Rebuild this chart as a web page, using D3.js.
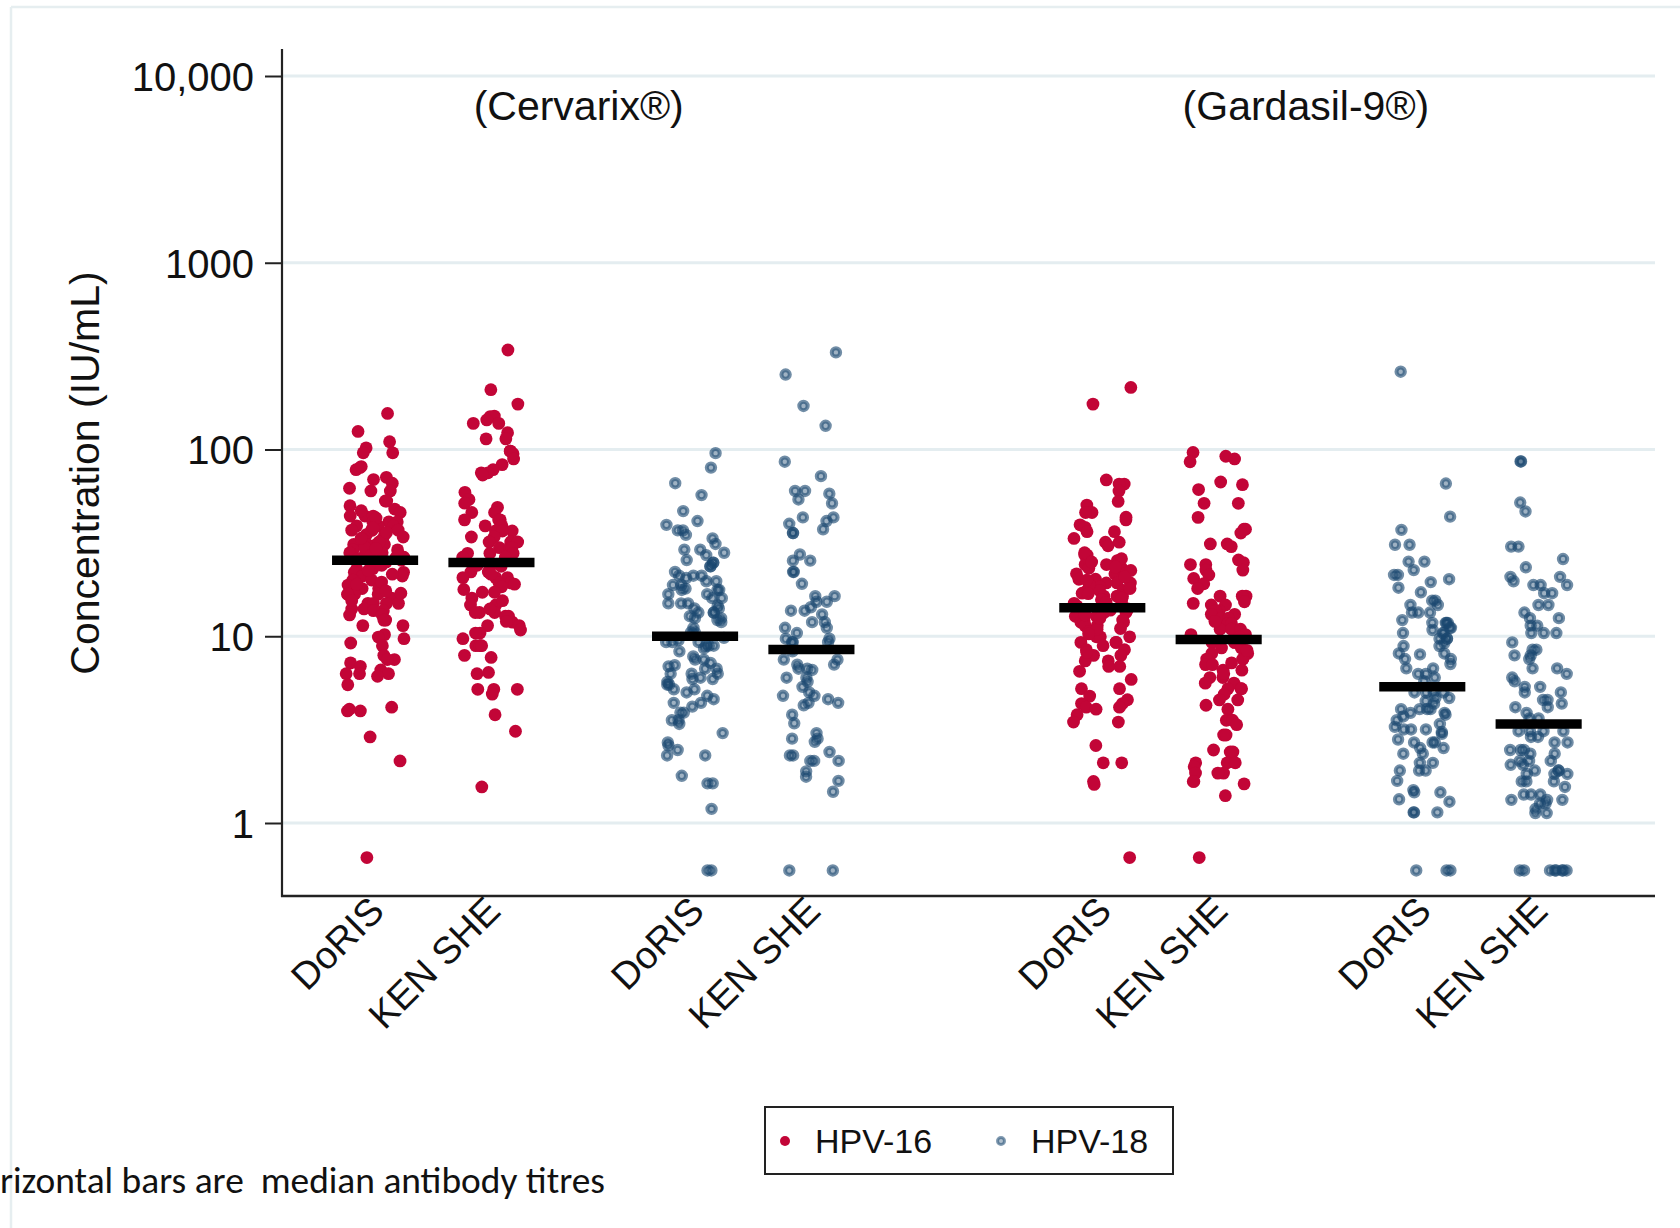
<!DOCTYPE html>
<html>
<head>
<meta charset="utf-8">
<script src="https://cdn.jsdelivr.net/npm/d3@7"></script>
<style>
  html, body { margin: 0; padding: 0; background: #ffffff; }
  svg { display: block; }
</style>
</head>
<body>
<svg id="chart" width="1680" height="1228"></svg>
<script>
// ---------------- DATA ----------------
const categories   = ["DoRIS", "KEN SHE", "DoRIS", "KEN SHE", "DoRIS", "KEN SHE", "DoRIS", "KEN SHE"];
const categoryPos  = [1, 2, 3.75, 4.75, 7.25, 8.25, 10, 11];
const seriesOfCat  = ["HPV-16", "HPV-16", "HPV-18", "HPV-18", "HPV-16", "HPV-16", "HPV-18", "HPV-18"];
const medians      = [25.5, 24.8, 10.0, 8.5, 14.2, 9.6, 5.36, 3.39];
const groupTitles  = ["(Cervarix®)", "(Gardasil-9®)"];
const groupTitlePos = [2.75, 9];
const yTicks       = [1, 10, 100, 1000, 10000];
const yTickLabels  = ["1", "10", "100", "1000", "10,000"];
const legendSeries = ["HPV-16", "HPV-18"];

const cervarix16Doris = [156, 125, 110, 102, 96, 96, 80, 78, 81, 69, 71, 66, 62, 60, 60, 53, 53, 50, 48, 46,
  44, 44, 44, 41, 41, 41, 39, 39, 39, 37, 37, 37, 37, 35, 35, 33, 33, 31, 31, 31, 31, 29, 29, 28, 28, 28,
  26.5, 26.5, 26.5, 24.3, 23, 23, 22, 22, 21, 21, 20, 20, 18.8, 18.8, 18, 18, 18, 16.8, 16.8, 16.8, 16.8,
  16, 15, 15, 15, 15, 14, 14, 13.7, 13.7, 13, 13, 12.2, 12.2, 11.4, 11.4, 10.2, 9.9, 9.7, 9.2, 8.9, 7.9,
  7.5, 7.5, 7.2, 6.9, 6.6, 6.3, 6.3, 6.3, 6.1, 5.5, 4.17, 3.98, 3.98, 4.07, 2.89, 2.15, 0.653,
  34, 30, 27, 25, 24, 43, 47, 38, 32, 36, 19.5, 17.5, 22.5, 27.5, 26, 25.5, 29.5, 33.5, 21.5, 19, 17, 15.5];
const cervarix16KenShe = [341, 209, 175, 150, 151, 144, 138, 138, 123, 114, 114, 98, 98, 95, 89, 83, 78, 75,
  75, 73, 59, 54, 51.6, 49, 46, 46, 42, 42, 42, 39, 39, 36.6, 36.6, 36.6, 34, 34, 32, 32, 32, 29.8, 29.8,
  29.8, 27.8, 27.8, 27.8, 26.5, 26.5, 23.7, 23.7, 23.7, 22.1, 22.1, 20.6, 20.6, 20.6, 19.3, 19.3, 18.4,
  17.2, 17.2, 16, 14.7, 14.7, 13.4, 13.4, 13.4, 12.8, 12.8, 11.9, 11.4, 11.4, 10.4, 10.4, 9.7, 8.9, 8.9,
  8.9, 7.9, 7.7, 6.4, 6.3, 5.2, 5.2, 5.2, 4.9, 3.8, 3.1, 1.56, 24, 21.5, 19, 17.8, 15.5, 14, 12, 10.8];
const cervarix18Doris = [95.6, 80, 66, 57, 46.8, 41.4, 39.5, 36.9, 36.9, 34.9, 33.4, 31.2, 29.1, 29.1, 28,
  27.2, 25.6, 24.8, 24.8, 23.7, 23.7, 22.1, 21.1, 21.1, 21.1, 19.7, 19.7, 18.8, 18.8, 17.7, 17.7, 17.7,
  16.8, 16.8, 16, 16, 15, 15, 15, 14.1, 14.1, 13.4, 13.4, 13.4, 12.8, 12.5, 12.5, 11.9, 11.1, 10.5, 10.5,
  9.3, 9.3, 9.3, 8.9, 8.9, 8.9, 8.3, 7.5, 7.5, 7.2, 6.7, 6.7, 6.3, 6.3, 6.3, 5.9, 5.9, 5.5, 5.5, 5.2, 5.2,
  5.0, 4.8, 4.6, 4.4, 4.4, 4.2, 3.9, 3.9, 3.55, 3.55, 3.39, 3.03, 2.7, 2.6, 2.46, 2.3, 2.3, 1.79, 1.63,
  1.63, 1.19, 0.557, 0.557, 9.8, 9.5, 8.6, 7.8, 6.9, 6.0, 20.5, 18, 14.6, 12.2, 7.0, 5.7];
const cervarix18KenShe = [331, 252, 171, 134, 86, 72, 60, 60, 58, 54, 51.5, 43.3, 43.3, 41.4, 40, 37.4, 35.7,
  35.7, 27.4, 25.4, 25.4, 22.1, 22.1, 19.1, 16.4, 16.4, 15.3, 15.3, 14.3, 13.7, 13.7, 13.1, 11.9, 11.9,
  11.1, 11.1, 10.4, 9.7, 9.7, 9.3, 9.3, 9.3, 8.3, 7.5, 7.5, 7.05, 7.05, 6.7, 6.7, 6.6, 6.0, 6.0, 5.7, 5.36,
  5.0, 4.8, 4.8, 4.6, 4.4, 4.4, 4.27, 3.8, 3.42, 3.03, 2.83, 2.72, 2.83, 2.4, 2.3, 2.3, 2.15, 2.15, 2.15,
  1.89, 1.77, 1.68, 1.47, 0.557, 0.557];
const gardasil16Doris = [215, 175, 68.7, 65.3, 65.3, 60, 52.7, 50.4, 46, 46, 43.4, 42, 39.5, 38.3, 36.3,
  36.3, 33.4, 31.9, 31.9, 30.5, 27.2, 27.2, 25.4, 24.2, 24.2, 23.1, 23.1, 21.6, 21.6, 21.6, 20.2, 20.2,
  19.3, 19.3, 19.3, 18.4, 18.4, 17.6, 17.6, 17.6, 16.4, 16.4, 16.4, 15.7, 15.7, 15, 15, 13.4, 13.4, 13.4,
  12.8, 12.8, 11.9, 11.9, 11.9, 11.4, 11.4, 10.6, 10.6, 9.93, 9.93, 9.93, 9.27, 9.27, 9.27, 8.47, 8.47,
  7.9, 7.9, 7.38, 7.38, 6.89, 6.89, 6.49, 5.87, 5.24, 5.24, 4.78, 4.57, 4.36, 4.36, 4.17, 4.17, 4.07, 3.8,
  3.47, 3.47, 2.6, 2.1, 2.1, 1.67, 1.61, 0.653, 28, 26, 22.5, 20.8, 18.9, 17, 14.5, 14, 13.8, 16.9, 12.2, 10.9,
  25, 23.5, 20, 18, 16, 15.2, 13, 12.5, 11, 10.3, 8.9, 8.2];
const gardasil16KenShe = [96.4, 92, 89, 86, 67, 64.8, 61, 51.5, 51.5, 43.3, 37.4, 37.4, 35.7, 31.2, 31.2,
  30.2, 25.6, 24.8, 24.2, 24.2, 22.6, 22.6, 21.3, 20.4, 19.1, 16.4, 16.4, 16.4, 15.3, 14.7, 14.7, 13.7,
  13.7, 13.1, 13.1, 12.5, 12.5, 11.7, 11.7, 11.7, 10.9, 10.9, 10.9, 10.2, 10.2, 9.27, 9.27, 9.27, 8.66,
  8.66, 8.09, 8.09, 7.55, 7.55, 7.55, 7.05, 7.05, 6.58, 6.58, 6.01, 6.01, 5.61, 5.61, 5.24, 5.24, 5.24,
  4.89, 4.56, 4.56, 4.27, 4.07, 3.55, 3.55, 3.36, 2.96, 2.96, 2.46, 2.4, 2.4, 2.1, 2.1, 2.1, 2.0, 1.85,
  1.85, 1.85, 1.67, 1.67, 1.62, 1.4, 0.653, 18, 15, 12, 9.9, 8.4, 7.2, 6.3];
const gardasil18Doris = [261, 65.7, 43.7, 37.1, 30.9, 30.9, 25.1, 25.1, 22.6, 21.3, 21.3, 20.2, 19.5, 18.2,
  17.2, 15.5, 15.5, 14.7, 14.7, 13.4, 13.4, 13.4, 11.8, 11.8, 11.8, 11.8, 11.1, 11.1, 10.4, 10.4, 10.4,
  9.7, 9.7, 9.7, 8.86, 8.86, 8.09, 8.09, 8.0, 7.55, 7.55, 6.73, 6.73, 6.29, 6.29, 6.01, 5.74, 5.0, 5.0,
  5.0, 5.0, 4.67, 4.67, 4.36, 4.07, 4.07, 4.07, 4.07, 3.89, 3.89, 3.72, 3.55, 3.39, 3.27, 3.17, 3.17, 3.17,
  3.07, 2.70, 2.70, 2.70, 2.52, 2.52, 2.35, 2.35, 2.1, 2.1, 1.91, 1.91, 1.91, 1.68, 1.5, 1.46, 1.46, 1.34,
  1.3, 1.14, 1.14, 1.14, 0.557, 0.557, 0.557, 12.2, 10.8, 9.2, 7.1, 4.5, 3.8, 3.0, 2.8];
const gardasil18KenShe = [86.3, 86.3, 52, 46.6, 30.2, 30.2, 25.9, 23.4, 20.8, 20.8, 19.7, 18.8, 18.8, 18.8,
  17, 17, 14.7, 14.7, 13.4, 12.5, 12.5, 11.4, 11.4, 10.4, 10.4, 10.4, 9.27, 8.47, 8.47, 7.9, 7.9, 7.55,
  6.73, 6.73, 6.29, 6.01, 5.74, 5.36, 5.36, 5.0, 5.0, 4.56, 4.56, 4.36, 4.17, 4.17, 3.89, 3.63, 3.63, 3.1,
  3.1, 3.1, 3.1, 2.89, 2.89, 2.70, 2.70, 2.46, 2.46, 2.46, 2.35, 2.35, 2.15, 2.15, 2.15, 2.05, 2.05, 1.91,
  1.91, 1.91, 1.83, 1.83, 1.83, 1.67, 1.67, 1.67, 1.56, 1.42, 1.42, 1.42, 1.33, 1.33, 1.33, 1.27, 1.27,
  1.19, 1.13, 1.13, 0.557, 0.557, 0.557, 0.557, 0.557, 0.557, 0.557, 0.557];

const columnValues = [cervarix16Doris, cervarix16KenShe, cervarix18Doris, cervarix18KenShe,
                      gardasil16Doris, gardasil16KenShe, gardasil18Doris, gardasil18KenShe];

// ---------------- CHART ----------------
const W = 1680, H = 1228;
const plot = { left: 282, right: 1655, top: 49, bottom: 896 };
const FONT = "'Liberation Sans', Arial, Helvetica, sans-serif";
const colors = { "HPV-16": "#c20537", "HPV-18": "#1a476f" };

const svg = d3.select("#chart");
svg.append("rect").attr("width", W).attr("height", H).attr("fill", "#ffffff");

// outer graph-region border (light)
svg.append("line").attr("x1", 11).attr("x2", W).attr("y1", 7).attr("y2", 7)
  .attr("stroke", "#e6eef0").attr("stroke-width", 2.5);
svg.append("line").attr("x1", 11).attr("x2", 11).attr("y1", 7).attr("y2", H)
  .attr("stroke", "#e6eef0").attr("stroke-width", 2.5);

const x = d3.scaleLinear().domain([0.2, 12]).range([plot.left, plot.right]);
const y = d3.scaleLog().domain([1, 10000]).range([823, 76]);

// gridlines
svg.append("g").selectAll("line").data(yTicks).join("line")
  .attr("x1", plot.left).attr("x2", plot.right)
  .attr("y1", d => y(d)).attr("y2", d => y(d))
  .attr("stroke", "#e4edf0").attr("stroke-width", 3);

// y axis
const yAxis = d3.axisLeft(y).tickValues(yTicks)
  .tickFormat((d, i) => yTickLabels[i]).tickSize(17).tickPadding(11);
const gy = svg.append("g").attr("transform", `translate(${plot.left},0)`).call(yAxis);
gy.select(".domain").remove();
gy.selectAll(".tick line").attr("stroke", "#222").attr("stroke-width", 2);
gy.selectAll(".tick text").attr("font-family", FONT).attr("font-size", 40).attr("fill", "#111")
  .attr("dy", "0.36em");
svg.append("line").attr("x1", plot.left).attr("x2", plot.left)
  .attr("y1", plot.top).attr("y2", plot.bottom + 1)
  .attr("stroke", "#222").attr("stroke-width", 2.2);

// x axis line
svg.append("line").attr("x1", plot.left - 1).attr("x2", plot.right)
  .attr("y1", plot.bottom).attr("y2", plot.bottom)
  .attr("stroke", "#222").attr("stroke-width", 2.4);

// y axis title
svg.append("text")
  .attr("transform", `translate(99,473) rotate(-90)`)
  .attr("text-anchor", "middle")
  .attr("font-family", FONT).attr("font-size", 41).attr("fill", "#111")
  .text("Concentration (IU/mL)");

// group titles
svg.append("g").selectAll("text").data(groupTitles).join("text")
  .attr("x", (d, i) => x(groupTitlePos[i])).attr("y", 120)
  .attr("text-anchor", "middle")
  .attr("font-family", FONT).attr("font-size", 41).attr("fill", "#111")
  .text(d => d);

// x tick labels (rotated 45°)
svg.append("g").selectAll("text").data(categories).join("text")
  .attr("transform", (d, i) => `translate(${x(categoryPos[i]) + 11},913) rotate(-45)`)
  .attr("text-anchor", "end")
  .attr("font-family", FONT).attr("font-size", 38).attr("fill", "#111")
  .text(d => d);

// deterministic jitter (Stata-style horizontal jitter)
function lcg(seed) {
  let s = seed >>> 0;
  return () => { s = (Math.imul(s, 1664525) + 1013904223) >>> 0; return s / 4294967296; };
}
const jitterHalf = 0.25;

const points = [];
columnValues.forEach((vals, ci) => {
  const rnd = lcg(1234 + ci * 7919);
  vals.forEach(v => {
    points.push({ ci, v, s: seriesOfCat[ci], j: (rnd() * 2 - 1) * jitterHalf });
  });
});

const gPts = svg.append("g");
gPts.selectAll("circle.h16").data(points.filter(p => p.s === "HPV-16")).join("circle")
  .attr("class", "h16")
  .attr("cx", p => x(categoryPos[p.ci] + p.j)).attr("cy", p => y(p.v))
  .attr("r", 6.4).attr("fill", colors["HPV-16"]);
gPts.selectAll("circle.h18").data(points.filter(p => p.s === "HPV-18")).join("circle")
  .attr("class", "h18")
  .attr("cx", p => x(categoryPos[p.ci] + p.j)).attr("cy", p => y(p.v))
  .attr("r", 4.2).attr("fill", colors["HPV-18"]).attr("fill-opacity", 0.42)
  .attr("stroke", colors["HPV-18"]).attr("stroke-opacity", 0.62).attr("stroke-width", 4);

// median bars
const barHalf = 0.37;
svg.append("g").selectAll("line").data(medians).join("line")
  .attr("x1", (d, i) => x(categoryPos[i] - barHalf))
  .attr("x2", (d, i) => x(categoryPos[i] + barHalf))
  .attr("y1", d => y(d)).attr("y2", d => y(d))
  .attr("stroke", "#000").attr("stroke-width", 9.5);

// legend
const lg = svg.append("g");
lg.append("rect").attr("x", 765).attr("y", 1107).attr("width", 408).attr("height", 67)
  .attr("fill", "#fff").attr("stroke", "#222").attr("stroke-width", 2);
const legX = [785, 1001];
lg.selectAll("circle").data(legendSeries).join("circle")
  .attr("cx", (d, i) => legX[i]).attr("cy", 1141)
  .attr("r", (d, i) => i === 0 ? 5 : 3.5)
  .attr("fill", d => colors[d])
  .attr("fill-opacity", (d, i) => i === 0 ? 1 : 0.35)
  .attr("stroke", d => colors[d])
  .attr("stroke-opacity", (d, i) => i === 0 ? 0 : 0.55)
  .attr("stroke-width", 3);
lg.selectAll("text").data(legendSeries).join("text")
  .attr("x", (d, i) => legX[i] + 30).attr("y", 1153)
  .attr("font-family", FONT).attr("font-size", 34).attr("fill", "#111")
  .text(d => d);

// footnote (clipped at left edge in original)
svg.append("text")
  .attr("x", 0).attr("y", 1193)
  .attr("font-family", "Carlito, Lato, 'Open Sans', sans-serif").attr("font-size", 37).attr("fill", "#111")
  .attr("textLength", 605).attr("lengthAdjust", "spacingAndGlyphs")
  .attr("xml:space", "preserve")
  .text("rizontal bars are  median antibody titres");
</script>
</body>
</html>
